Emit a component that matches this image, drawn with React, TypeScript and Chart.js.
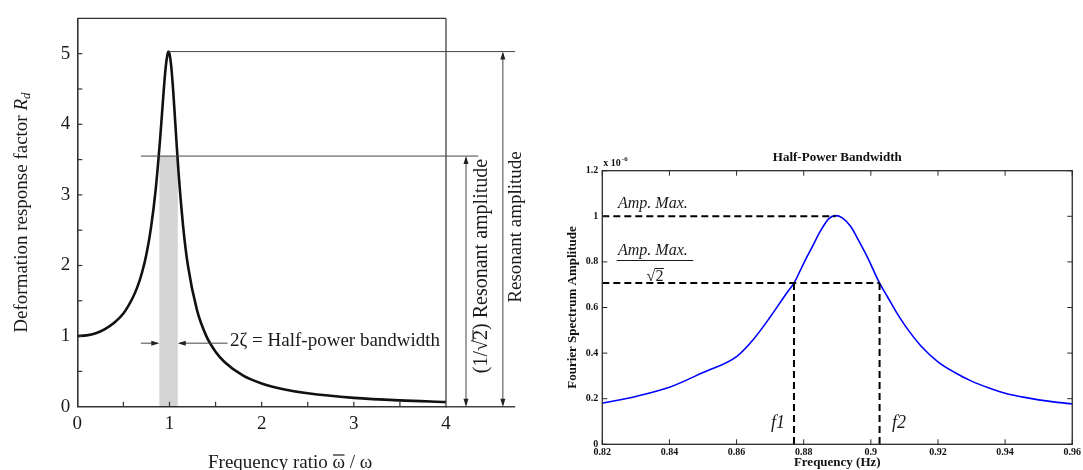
import React, { useEffect, useRef } from "react";
import { Chart, registerables } from "chart.js";

Chart.register(...registerables);

const SERIF = "'Liberation Serif', 'Times New Roman', Times, serif";

// ---------- Left chart data ----------
const RATIO = [0, 0.1, 0.2, 0.3, 0.4, 0.5, 0.6, 0.65, 0.7, 0.75, 0.8, 0.85, 0.9, 0.92, 0.94, 0.96, 0.98, 0.99, 1.0, 1.02, 1.04, 1.06, 1.08, 1.1, 1.15, 1.2, 1.3, 1.4, 1.5, 1.6, 1.8, 2.0, 2.25, 2.5, 3.0, 3.5, 4.0];
const RD = [1.0, 1.01, 1.04, 1.1, 1.19, 1.32, 1.54, 1.69, 1.89, 2.16, 2.54, 3.07, 3.82, 4.17, 4.52, 4.82, 5.0, 5.03, 5.0, 4.81, 4.48, 4.08, 3.67, 3.29, 2.53, 2.0, 1.36, 1.0, 0.78, 0.63, 0.44, 0.33, 0.245, 0.19, 0.125, 0.089, 0.067];
const LEFT_X_TICKS = [0, 1, 2, 3, 4];
const LEFT_Y_TICKS = [0, 1, 2, 3, 4, 5];
const LEFT_X_MINOR = [0.5, 1, 1.5, 2, 2.5, 3, 3.5];
const LEFT_Y_MINOR = [0.5, 1, 1.5, 2, 2.5, 3, 3.5, 4, 4.5, 5];
const PEAK_RATIO = 0.99;
const PEAK_RD = 5.03;
const HALF_POWER_RD = 3.55;
const BAND_LO = 0.89;
const BAND_HI = 1.09;
const BAND_ARROW_Y = 0.9;
const HP_LINE_START = 0.69;
const HP_LINE_END = 4.35;
const PEAK_LINE_END = 4.75;
const ARROW_HALF_X = 4.217;
const ARROW_FULL_X = 4.617;
const HP_TEXT_LINE_END = 1.63;

// ---------- Right chart data ----------
const FREQ = [0.82, 0.83, 0.84, 0.85, 0.86, 0.865, 0.87, 0.875, 0.8771, 0.88, 0.8825, 0.885, 0.8875, 0.8895, 0.8915, 0.894, 0.8965, 0.899, 0.9026, 0.905, 0.9075, 0.91, 0.915, 0.92, 0.925, 0.93, 0.935, 0.94, 0.945, 0.95, 0.955, 0.96];
const AMP = [0.18, 0.21, 0.25, 0.315, 0.385, 0.46, 0.558, 0.665, 0.707, 0.794, 0.865, 0.936, 0.99, 1.003, 0.993, 0.955, 0.89, 0.82, 0.707, 0.646, 0.582, 0.525, 0.43, 0.362, 0.315, 0.277, 0.248, 0.224, 0.208, 0.195, 0.185, 0.177];
const RIGHT_X_TICKS = [0.82, 0.84, 0.86, 0.88, 0.9, 0.92, 0.94, 0.96];
const RIGHT_X_LABELS = ["0.82", "0.84", "0.86", "0.88", "0.9", "0.92", "0.94", "0.96"];
const RIGHT_Y_TICKS = [0, 0.2, 0.4, 0.6, 0.8, 1, 1.2];
const RIGHT_Y_LABELS = ["0", "0.2", "0.4", "0.6", "0.8", "1", "1.2"];
const AMP_MAX = 1.0;
const PEAK_FREQ = 0.8895;
const HALF_AMP = 0.707;
const F1 = 0.8771;
const F2 = 0.9026;

function arrowHead(ctx: CanvasRenderingContext2D, x: number, y: number, dir: string, len = 8, half = 2.5) {
  ctx.beginPath();
  if (dir === "up") { ctx.moveTo(x, y); ctx.lineTo(x - half, y + len); ctx.lineTo(x + half, y + len); }
  if (dir === "down") { ctx.moveTo(x, y); ctx.lineTo(x - half, y - len); ctx.lineTo(x + half, y - len); }
  if (dir === "left") { ctx.moveTo(x, y); ctx.lineTo(x + len, y - half); ctx.lineTo(x + len, y + half); }
  if (dir === "right") { ctx.moveTo(x, y); ctx.lineTo(x - len, y - half); ctx.lineTo(x - len, y + half); }
  ctx.closePath();
  ctx.fill();
}

function line(ctx: CanvasRenderingContext2D, x1: number, y1: number, x2: number, y2: number) {
  ctx.beginPath();
  ctx.moveTo(x1, y1);
  ctx.lineTo(x2, y2);
  ctx.stroke();
}

const leftPlugin = {
  id: "leftDeco",
  beforeDatasetsDraw(chart: any) {
    const { ctx, scales } = chart;
    const x = scales.x, y = scales.y;
    ctx.save();
    ctx.fillStyle = "rgba(0,0,0,0.17)";
    const x1 = x.getPixelForValue(BAND_LO), x2 = x.getPixelForValue(BAND_HI);
    const yt = y.getPixelForValue(HALF_POWER_RD), yb = y.getPixelForValue(0);
    ctx.fillRect(x1, yt, x2 - x1, yb - yt);
    ctx.restore();
  },
  afterDraw(chart: any) {
    const { ctx, scales, chartArea } = chart;
    const x = scales.x, y = scales.y;
    ctx.save();
    ctx.strokeStyle = "#333";
    ctx.lineWidth = 1.2;
    line(ctx, chartArea.left, chartArea.top, chartArea.right, chartArea.top);
    line(ctx, chartArea.right, chartArea.top, chartArea.right, chartArea.bottom);
    LEFT_X_MINOR.forEach((v) => {
      const px = x.getPixelForValue(v);
      line(ctx, px, chartArea.bottom, px, chartArea.bottom - 5);
    });
    LEFT_Y_MINOR.forEach((v) => {
      const py = y.getPixelForValue(v);
      line(ctx, chartArea.left, py, chartArea.left + 5, py);
    });
    ctx.strokeStyle = "#444";
    ctx.fillStyle = "#222";
    ctx.lineWidth = 1;
    const yPeak = y.getPixelForValue(PEAK_RD);
    const yHalf = y.getPixelForValue(HALF_POWER_RD);
    const y0 = y.getPixelForValue(0);
    line(ctx, x.getPixelForValue(PEAK_RATIO), yPeak, x.getPixelForValue(PEAK_LINE_END), yPeak);
    line(ctx, x.getPixelForValue(HP_LINE_START), yHalf, x.getPixelForValue(HP_LINE_END), yHalf);
    ctx.lineWidth = 1.5;
    line(ctx, chartArea.right, y0, x.getPixelForValue(PEAK_LINE_END), y0);
    ctx.lineWidth = 1;
    const ax1 = x.getPixelForValue(ARROW_HALF_X);
    line(ctx, ax1, yHalf + 2, ax1, y0 - 2);
    arrowHead(ctx, ax1, yHalf, "up");
    arrowHead(ctx, ax1, y0, "down");
    const ax2 = x.getPixelForValue(ARROW_FULL_X);
    line(ctx, ax2, yPeak + 2, ax2, y0 - 2);
    arrowHead(ctx, ax2, yPeak, "up");
    arrowHead(ctx, ax2, y0, "down");
    const ya = y.getPixelForValue(BAND_ARROW_Y);
    const bl = x.getPixelForValue(BAND_LO), br = x.getPixelForValue(BAND_HI);
    line(ctx, x.getPixelForValue(HP_LINE_START), ya, bl - 2, ya);
    arrowHead(ctx, bl, ya, "right", 8, 2.5);
    line(ctx, br + 2, ya, x.getPixelForValue(HP_TEXT_LINE_END), ya);
    arrowHead(ctx, br, ya, "left", 8, 2.5);

    ctx.fillStyle = "#1a1a1a";
    ctx.font = `19px ${SERIF}`;
    ctx.textBaseline = "middle";
    ctx.textAlign = "left";
    ctx.fillText("2ζ = Half-power bandwidth", 230, 341);

    const p1 = "Frequency ratio ";
    const om = "ω";
    const p2 = " / ω";
    const w1 = ctx.measureText(p1).width;
    const wo = ctx.measureText(om).width;
    const tx = 208, ty = 463;
    ctx.fillText(p1 + om + p2, tx, ty);
    ctx.strokeStyle = "#1a1a1a";
    ctx.lineWidth = 1.2;
    line(ctx, tx + w1 + 0.5, ty - 8, tx + w1 + wo - 0.5, ty - 8);

    ctx.save();
    ctx.translate(22, (chartArea.top + chartArea.bottom) / 2);
    ctx.rotate(-Math.PI / 2);
    const yt1 = "Deformation response factor ";
    ctx.font = `19px ${SERIF}`;
    const wy1 = ctx.measureText(yt1).width;
    ctx.font = `italic 19px ${SERIF}`;
    const wR = ctx.measureText("R").width;
    ctx.font = `italic 13px ${SERIF}`;
    const wd = ctx.measureText("d").width;
    const total = wy1 + wR + wd;
    let cx = -total / 2;
    ctx.textAlign = "left";
    ctx.font = `19px ${SERIF}`;
    ctx.fillText(yt1, cx, 0);
    cx += wy1;
    ctx.font = `italic 19px ${SERIF}`;
    ctx.fillText("R", cx, 0);
    cx += wR;
    ctx.font = `italic 13px ${SERIF}`;
    ctx.fillText("d", cx, 5);
    ctx.restore();

    ctx.save();
    ctx.translate(482, 266);
    ctx.rotate(-Math.PI / 2);
    ctx.font = `20px ${SERIF}`;
    ctx.textAlign = "left";
    const full = "(1/√2) Resonant amplitude";
    const wf = ctx.measureText(full).width;
    const wPre = ctx.measureText("(1/√").width;
    const w2 = ctx.measureText("2").width;
    ctx.fillText(full, -wf / 2, 0);
    ctx.lineWidth = 1;
    line(ctx, -wf / 2 + wPre - 1, -9, -wf / 2 + wPre + w2, -9);
    ctx.restore();

    ctx.save();
    ctx.translate(516, 227);
    ctx.rotate(-Math.PI / 2);
    ctx.font = `19px ${SERIF}`;
    ctx.textAlign = "center";
    ctx.fillText("Resonant amplitude", 0, 0);
    ctx.restore();

    ctx.restore();
  },
};

const rightPlugin = {
  id: "rightDeco",
  afterDatasetsDraw(chart: any) {
    const { ctx, scales, chartArea } = chart;
    const x = scales.x, y = scales.y;
    ctx.save();
    ctx.strokeStyle = "#000";
    ctx.lineWidth = 2;
    ctx.setLineDash([7, 4]);
    const yMax = y.getPixelForValue(AMP_MAX);
    const yHalf = y.getPixelForValue(HALF_AMP);
    const y0 = y.getPixelForValue(0);
    line(ctx, chartArea.left, yMax, x.getPixelForValue(PEAK_FREQ), yMax);
    line(ctx, chartArea.left, yHalf, x.getPixelForValue(F2), yHalf);
    line(ctx, x.getPixelForValue(F1), yHalf, x.getPixelForValue(F1), y0);
    line(ctx, x.getPixelForValue(F2), yHalf, x.getPixelForValue(F2), y0);
    ctx.restore();
  },
  afterDraw(chart: any) {
    const { ctx, scales, chartArea } = chart;
    const x = scales.x, y = scales.y;
    const { left, right, top, bottom } = chartArea;
    ctx.save();
    ctx.strokeStyle = "#2a2a2a";
    ctx.lineWidth = 1.3;
    ctx.strokeRect(left, top, right - left, bottom - top);
    ctx.lineWidth = 1;
    RIGHT_X_TICKS.forEach((v) => {
      const px = x.getPixelForValue(v);
      line(ctx, px, bottom, px, bottom - 5);
      line(ctx, px, top, px, top + 5);
    });
    RIGHT_Y_TICKS.forEach((v) => {
      const py = y.getPixelForValue(v);
      line(ctx, left, py, left + 5, py);
      line(ctx, right, py, right - 5, py);
    });

    ctx.fillStyle = "#111";
    ctx.font = `bold 13px ${SERIF}`;
    ctx.textAlign = "center";
    ctx.textBaseline = "middle";
    ctx.fillText("Half-Power Bandwidth", (left + right) / 2, 28);
    ctx.fillText("Frequency (Hz)", (left + right) / 2, 333);
    ctx.save();
    ctx.translate(33, (top + bottom) / 2);
    ctx.rotate(-Math.PI / 2);
    ctx.fillText("Fourier Spectrum Amplitude", 0, 0);
    ctx.restore();
    ctx.textAlign = "left";
    ctx.textBaseline = "alphabetic";
    ctx.font = `bold 10px ${SERIF}`;
    ctx.fillText("x 10", left + 1, 36);
    const wx = ctx.measureText("x 10").width;
    ctx.font = `bold 7px ${SERIF}`;
    ctx.fillText("-6", left + 1 + wx + 1, 31);

    ctx.fillStyle = "#1a1a1a";
    ctx.font = `italic 16px ${SERIF}`;
    ctx.fillText("Amp. Max.", 78, 78);
    ctx.fillText("Amp. Max.", 78, 125);
    ctx.strokeStyle = "#1a1a1a";
    ctx.lineWidth = 1.2;
    line(ctx, 76.7, 130.5, 153.3, 130.5);
    ctx.font = `16px ${SERIF}`;
    ctx.textAlign = "left";
    const sq = "√2";
    const wsq = ctx.measureText(sq).width;
    const wroot = ctx.measureText("√").width;
    const sx = 115 - wsq / 2;
    ctx.fillText(sq, sx, 151);
    ctx.lineWidth = 1;
    line(ctx, sx + wroot - 0.5, 138.5, sx + wsq + 0.5, 138.5);

    ctx.font = `italic 18px ${SERIF}`;
    ctx.textAlign = "center";
    ctx.textBaseline = "middle";
    ctx.fillText("f1", 238, 293);
    ctx.fillText("f2", 359, 293);
    ctx.restore();
  },
};

export default function App() {
  const leftRef = useRef<HTMLCanvasElement>(null);
  const rightRef = useRef<HTMLCanvasElement>(null);

  useEffect(() => {
    const left = new Chart(leftRef.current as HTMLCanvasElement, {
      type: "line",
      data: {
        datasets: [
          {
            data: RATIO.map((r, i) => ({ x: r, y: RD[i] })),
            borderColor: "#111",
            borderWidth: 2.6,
            pointRadius: 0,
            cubicInterpolationMode: "monotone",
            fill: false,
          },
        ],
      },
      options: {
        animation: false,
        responsive: false,
        maintainAspectRatio: false,
        layout: { padding: { left: 37.3, right: 94, top: 14.7, bottom: 23.3 } },
        plugins: { legend: { display: false }, tooltip: { enabled: false } },
        scales: {
          x: {
            type: "linear",
            min: 0,
            max: 4,
            grid: { display: false, drawTicks: false },
            border: { display: true, color: "#333", width: 1.6 },
            afterBuildTicks: (s: any) => { s.ticks = LEFT_X_TICKS.map((v) => ({ value: v })); },
            afterFit: (s: any) => { s.height = 40; },
            ticks: { font: { family: SERIF, size: 19 }, color: "#1a1a1a", padding: 6, maxRotation: 0, autoSkip: false, callback: (v: any) => String(v) },
          },
          y: {
            type: "linear",
            min: 0,
            max: 5.5,
            grid: { display: false, drawTicks: false },
            border: { display: true, color: "#333", width: 1.6 },
            afterBuildTicks: (s: any) => { s.ticks = LEFT_Y_TICKS.map((v) => ({ value: v })); },
            afterFit: (s: any) => { s.width = 40; },
            ticks: { font: { family: SERIF, size: 19 }, color: "#1a1a1a", padding: 7, autoSkip: false, callback: (v: any) => String(v) },
          },
        },
      },
      plugins: [leftPlugin],
    } as any);

    const right = new Chart(rightRef.current as HTMLCanvasElement, {
      type: "line",
      data: {
        datasets: [
          {
            data: FREQ.map((f, i) => ({ x: f, y: AMP[i] })),
            borderColor: "#0000ff",
            borderWidth: 1.6,
            pointRadius: 0,
            cubicInterpolationMode: "monotone",
            fill: false,
          },
        ],
      },
      options: {
        animation: false,
        responsive: false,
        maintainAspectRatio: false,
        layout: { padding: { left: 32.3, right: 8, top: 40.7, bottom: 5.7 } },
        plugins: { legend: { display: false }, tooltip: { enabled: false } },
        scales: {
          x: {
            type: "linear",
            min: 0.82,
            max: 0.96,
            grid: { display: false, drawTicks: false },
            border: { display: false },
            afterBuildTicks: (s: any) => { s.ticks = RIGHT_X_TICKS.map((v) => ({ value: v })); },
            afterFit: (s: any) => { s.height = 20; },
            ticks: { font: { family: SERIF, size: 10, weight: "bold" }, color: "#111", padding: 2, maxRotation: 0, autoSkip: false, callback: (_v: any, i: number) => RIGHT_X_LABELS[i] },
          },
          y: {
            type: "linear",
            min: 0,
            max: 1.2,
            grid: { display: false, drawTicks: false },
            border: { display: false },
            afterBuildTicks: (s: any) => { s.ticks = RIGHT_Y_TICKS.map((v) => ({ value: v })); },
            afterFit: (s: any) => { s.width = 30; },
            ticks: { font: { family: SERIF, size: 10, weight: "bold" }, color: "#111", padding: 4, autoSkip: false, callback: (_v: any, i: number) => RIGHT_Y_LABELS[i] },
          },
        },
      },
      plugins: [rightPlugin],
    } as any);

    return () => {
      left.destroy();
      right.destroy();
    };
  }, []);

  return (
    <div style={{ position: "fixed", left: 0, top: 0, width: 1083, height: 470, background: "#fff", overflow: "hidden" }}>
      <canvas ref={leftRef} width={540} height={470} style={{ position: "absolute", left: 0, top: 0 }} />
      <canvas ref={rightRef} width={543} height={340} style={{ position: "absolute", left: 540, top: 130 }} />
    </div>
  );
}
